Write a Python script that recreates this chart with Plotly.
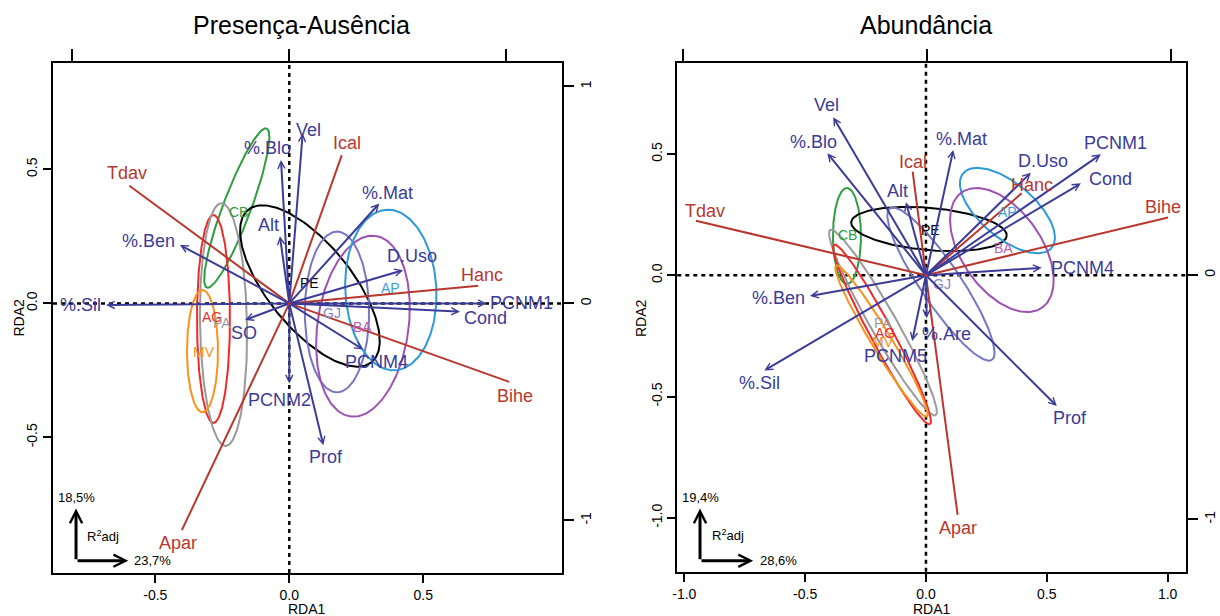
import numpy as np
import plotly.graph_objects as go

BLUE = "#3b3b98"
RED = "#b8372e"
FONT = "Arial, Liberation Sans, sans-serif"

# ---------------- Presença-Ausência (left panel) ----------------
L_blue_names = ["%.Sil", "%.Ben", "%.Blo", "Alt", "Vel", "%.Mat", "D.Uso", "PCNM1", "Cond", "PCNM4", "Prof", "PCNM2", "SO"]
L_blue_x = [-0.684, -0.408, -0.031, -0.035, 0.050, 0.336, 0.425, 0.737, 0.637, 0.276, 0.127, 0.000, -0.165]
L_blue_y = [-0.006, 0.218, 0.535, 0.251, 0.635, 0.373, 0.124, 0.000, -0.031, -0.172, -0.529, -0.299, -0.062]
L_blue_lx = [-0.781, -0.527, -0.083, -0.079, 0.070, 0.366, 0.459, 0.867, 0.733, 0.326, 0.137, -0.035, -0.169]
L_blue_ly = [-0.006, 0.232, 0.579, 0.292, 0.647, 0.413, 0.176, 0.000, -0.056, -0.218, -0.572, -0.361, -0.111]

L_red_names = ["Tdav", "Ical", "Hanc", "Bihe", "Apar"]
L_red_x = [-0.597, 0.196, 0.705, 0.821, -0.401]
L_red_y = [0.439, 0.553, 0.066, -0.293, -0.846]
L_red_lx = [-0.604, 0.214, 0.720, 0.842, -0.416]
L_red_ly = [0.486, 0.598, 0.106, -0.345, -0.893]

L_ell_names = ["CB", "AG", "PA", "MV", "PE", "GJ", "BA", "AP"]
L_ell_cx = [-0.196, -0.283, -0.2455, -0.324, 0.077, 0.178, 0.275, 0.379]
L_ell_cy = [0.356, -0.058, -0.079, -0.178, 0.065, -0.032, -0.085, 0.050]
L_ell_a = [0.317, 0.388, 0.453, 0.228, 0.366, 0.300, 0.340, 0.300]
L_ell_b = [0.052, 0.0616, 0.0877, 0.058, 0.157, 0.120, 0.170, 0.170]
L_ell_ang = [69.4, 90, 91, 90, -51, 90, 82, 93]
L_ell_lx = [-0.191, -0.288, -0.251, -0.318, 0.077, 0.158, 0.275, 0.376]
L_ell_ly = [0.342, -0.051, -0.073, -0.181, 0.075, -0.037, -0.087, 0.057]

# ---------------- Abundância (right panel) ----------------
R_blue_names = ["Vel", "%.Blo", "Alt", "%.Ben", "%.Sil", "PCNM5", "%.Are", "Prof", "PCNM4", "Cond", "PCNM1", "D.Uso", "%.Mat"]
R_blue_x = [-0.384, -0.408, -0.083, -0.480, -0.669, -0.057, 0.003, 0.541, 0.479, 0.641, 0.724, 0.434, 0.113]
R_blue_y = [0.652, 0.503, 0.301, -0.085, -0.393, -0.271, -0.177, -0.539, 0.031, 0.379, 0.499, 0.423, 0.517]
R_blue_lx = [-0.411, -0.466, -0.117, -0.611, -0.687, -0.128, 0.086, 0.596, 0.648, 0.764, 0.786, 0.483, 0.148]
R_blue_ly = [0.702, 0.551, 0.348, -0.095, -0.445, -0.332, -0.243, -0.590, 0.031, 0.396, 0.544, 0.471, 0.561]

R_red_names = ["Tdav", "Ical", "Hanc", "Bihe", "Apar"]
R_red_x = [-0.952, -0.055, 0.396, 1.002, 0.131]
R_red_y = [0.225, 0.427, 0.338, 0.238, -0.988]
R_red_lx = [-0.914, -0.055, 0.437, 0.979, 0.134]
R_red_ly = [0.266, 0.468, 0.372, 0.283, -1.041]

R_ell_names = ["CB", "PE", "AP", "BA", "GJ", "PA", "AG", "MV"]
R_ell_cx = [-0.327, 0.0124, 0.337, 0.314, 0.062, -0.178, -0.182, -0.184]
R_ell_cy = [0.162, 0.191, 0.267, 0.104, -0.036, -0.195, -0.244, -0.271]
R_ell_a = [0.198, 0.323, 0.239, 0.290, 0.377, 0.440, 0.420, 0.364]
R_ell_b = [0.058, 0.087, 0.112, 0.165, 0.083, 0.054, 0.046, 0.041]
R_ell_ang = [90, -5, -40, -55, -56, -60.3, -61.8, -58.9]
R_ell_lx = [-0.323, 0.017, 0.339, 0.319, 0.065, -0.177, -0.170, -0.177]
R_ell_ly = [0.166, 0.187, 0.262, 0.113, -0.036, -0.198, -0.239, -0.274]

ELL_COLORS = {"CB": "#2e9e3e", "AG": "#ee2b2b", "PA": "#9a9a9a", "MV": "#f7931e",
              "PE": "#000000", "GJ": "#7676c4", "BA": "#9d52b3", "AP": "#2d9ad8"}
ELL_TXT = {"CB": "#2e9e3e", "AG": "#ee2b2b", "PA": "#9a9a9a", "MV": "#f7931e",
           "PE": "#000000", "GJ": "#8686cc", "BA": "#b560b5", "AP": "#3aa0dd"}

R2_left = ["18,5%", "23,7%"]
R2_right = ["19,4%", "28,6%"]

fig = go.Figure()
ann = []


def ellipse(cx, cy, a, b, ang):
    t = np.linspace(0, 2 * np.pi, 200)
    th = np.deg2rad(ang)
    x = cx + a * np.cos(t) * np.cos(th) - b * np.sin(t) * np.sin(th)
    y = cy + a * np.cos(t) * np.sin(th) + b * np.sin(t) * np.cos(th)
    return x, y


def txt(x, y, xr, yr, text, size, color, **kw):
    d = dict(x=x, y=y, xref=xr, yref=yr, text=text, showarrow=False,
             xanchor="center", yanchor="middle",
             font=dict(size=size, color=color, family=FONT))
    d.update(kw)
    ann.append(d)


def panel(xr, yr, bn, bx, by, blx, bly, rn, rx, ry, rlx, rly,
          en, ecx, ecy, ea, eb, eang, elx, ely):
    for i, n in enumerate(en):
        x, y = ellipse(ecx[i], ecy[i], ea[i], eb[i], eang[i])
        fig.add_trace(go.Scatter(x=x, y=y, mode="lines", xaxis=xr, yaxis=yr,
                                 line=dict(color=ELL_COLORS[n], width=2),
                                 showlegend=False, hoverinfo="skip"))
    for i, n in enumerate(rn):
        fig.add_trace(go.Scatter(x=[0, rx[i]], y=[0, ry[i]], mode="lines", xaxis=xr, yaxis=yr,
                                 line=dict(color=RED, width=2),
                                 showlegend=False, hoverinfo="skip"))
    for i, n in enumerate(en):
        txt(elx[i], ely[i], xr, yr, n, 14, ELL_TXT[n])
    for i, n in enumerate(bn):
        ann.append(dict(x=bx[i], y=by[i], ax=0, ay=0, xref=xr, yref=yr,
                        axref=xr, ayref=yr, text="", showarrow=True,
                        arrowhead=5, arrowsize=0.7, arrowwidth=2, arrowcolor=BLUE,
                        standoff=0, startstandoff=0))
        txt(blx[i], bly[i], xr, yr, n, 18, BLUE)
    for i, n in enumerate(rn):
        txt(rlx[i], rly[i], xr, yr, n, 18, RED)


panel("x", "y", L_blue_names, L_blue_x, L_blue_y, L_blue_lx, L_blue_ly,
      L_red_names, L_red_x, L_red_y, L_red_lx, L_red_ly,
      L_ell_names, L_ell_cx, L_ell_cy, L_ell_a, L_ell_b, L_ell_ang, L_ell_lx, L_ell_ly)
panel("x2", "y2", R_blue_names, R_blue_x, R_blue_y, R_blue_lx, R_blue_ly,
      R_red_names, R_red_x, R_red_y, R_red_lx, R_red_ly,
      R_ell_names, R_ell_cx, R_ell_cy, R_ell_a, R_ell_b, R_ell_ang, R_ell_lx, R_ell_ly)

# dummy traces for the secondary (top/right) axes
for xa, ya in [("x3", "y3"), ("x4", "y4")]:
    fig.add_trace(go.Scatter(x=[None], y=[None], xaxis=xa, yaxis=ya,
                             showlegend=False, hoverinfo="skip"))


# R2adj corner arrows
def r2(xr, yr, x0, y0, x1, y1, labs, ty, rx, ry, bx):
    ann.append(dict(x=x0, y=y1, ax=x0, ay=y0, xref=xr, yref=yr, axref=xr, ayref=yr,
                    text="", showarrow=True, arrowhead=5, arrowsize=0.8, arrowwidth=3,
                    arrowcolor="black", standoff=0))
    ann.append(dict(x=x1, y=y0, ax=x0, ay=y0, xref=xr, yref=yr, axref=xr, ayref=yr,
                    text="", showarrow=True, arrowhead=5, arrowsize=0.8, arrowwidth=3,
                    arrowcolor="black", standoff=0))
    txt(x0, ty, xr, yr, labs[0], 13, "black")
    txt(rx, ry, xr, yr, "R<sup>2</sup>adj", 13, "black")
    txt(bx, y0, xr, yr, labs[1], 13, "black")


r2("x", "y", -0.796, -0.960, -0.601, -0.765, R2_left, -0.725, -0.694, -0.868, -0.509)
r2("x2", "y2", -0.935, -1.177, -0.715, -0.961, R2_right, -0.915, -0.820, -1.071, -0.611)

# titles and axis titles
for t_, xc in [("Presença-Ausência", 301 / 1220), ("Abundância", 926 / 1220)]:
    txt(xc, 1 - 25 / 616, "paper", "paper", t_, 25, "black")
for xc in [307.5 / 1220, 931.5 / 1220]:
    txt(xc, 1 - 609 / 616, "paper", "paper", "RDA1", 14, "black")
for xc in [18.5 / 1220, 641 / 1220]:
    txt(xc, 1 - 318 / 616, "paper", "paper", "RDA2", 14, "black", textangle=-90)

# dotted zero lines
shapes = []
for xr, yr in [("x", "y"), ("x2", "y2")]:
    shapes.append(dict(type="line", xref=xr, yref=yr + " domain", x0=0, x1=0, y0=0, y1=1,
                       line=dict(color="black", width=2.5, dash="4px,4px"), layer="below"))
    shapes.append(dict(type="line", xref=xr + " domain", yref=yr, x0=0, x1=1, y0=0, y1=0,
                       line=dict(color="black", width=2.5, dash="4px,4px"), layer="below"))

dL = [53 / 1220, 562 / 1220]
dLy = [1 - 573 / 616, 1 - 63 / 616]
dR = [677.3 / 1220, 1186 / 1220]
dRy = [1 - 571.7 / 616, 1 - 63.3 / 616]

tick_font = dict(size=14, color="black", family=FONT)
base = dict(showgrid=False, zeroline=False, ticks="outside", tickwidth=2, tickcolor="black",
            tickfont=tick_font, fixedrange=True, automargin=False)

fig.update_layout(
    width=1220, height=616, margin=dict(l=0, r=0, t=0, b=0, autoexpand=False),
    paper_bgcolor="white", plot_bgcolor="white", showlegend=False,
    font=dict(family=FONT),
    xaxis=dict(base, domain=dL, anchor="y", range=[-0.882, 1.018], tickvals=[-0.5, 0, 0.5],
               ticktext=["-0.5", "0.0", "0.5"], ticklen=8, showline=True, linewidth=2,
               linecolor="black", mirror=True),
    yaxis=dict(base, domain=dLy, anchor="x", range=[-1.006, 0.897], tickvals=[-0.5, 0, 0.5],
               ticktext=["-0.5", "0.0", "0.5"], ticklen=8, tickangle=-90, showline=True,
               linewidth=2, linecolor="black", mirror=True),
    xaxis3=dict(base, overlaying="x", anchor="y", side="top", range=[-1.089, 1.257],
                tickvals=[-1, 0, 1], ticklen=13, showticklabels=False, showline=False),
    yaxis3=dict(base, overlaying="y", anchor="x", side="right", range=[-1.242, 1.108],
                tickvals=[-1, 0, 1], ticktext=["-1", "0", "1"], ticklen=11, tickangle=-90,
                showline=False),
    xaxis2=dict(base, domain=dR, anchor="y2", range=[-1.029, 1.076], tickvals=[-1, -0.5, 0, 0.5, 1],
                ticktext=["-1.0", "-0.5", "0.0", "0.5", "1.0"], ticklen=8, showline=True,
                linewidth=2, linecolor="black", mirror=True),
    yaxis2=dict(base, domain=dRy, anchor="x2", range=[-1.222, 0.874], tickvals=[-1, -0.5, 0, 0.5],
                ticktext=["-1.0", "-0.5", "0.0", "0.5"], ticklen=8, tickangle=-90, showline=True,
                linewidth=2, linecolor="black", mirror=True),
    xaxis4=dict(base, overlaying="x2", anchor="y2", side="top", range=[-1.022, 1.063],
                tickvals=[-1, 0, 1], ticklen=13, showticklabels=False, showline=False),
    yaxis4=dict(base, overlaying="y2", anchor="x2", side="right", range=[-1.2145, 0.867],
                tickvals=[-1, 0, 1], ticktext=["-1", "0", "1"], ticklen=11, tickangle=-90,
                showline=False),
    annotations=ann, shapes=shapes,
)

fig.write_html("out.html", config={"displayModeBar": False},
               post_script="document.body.style.margin='0px';")
